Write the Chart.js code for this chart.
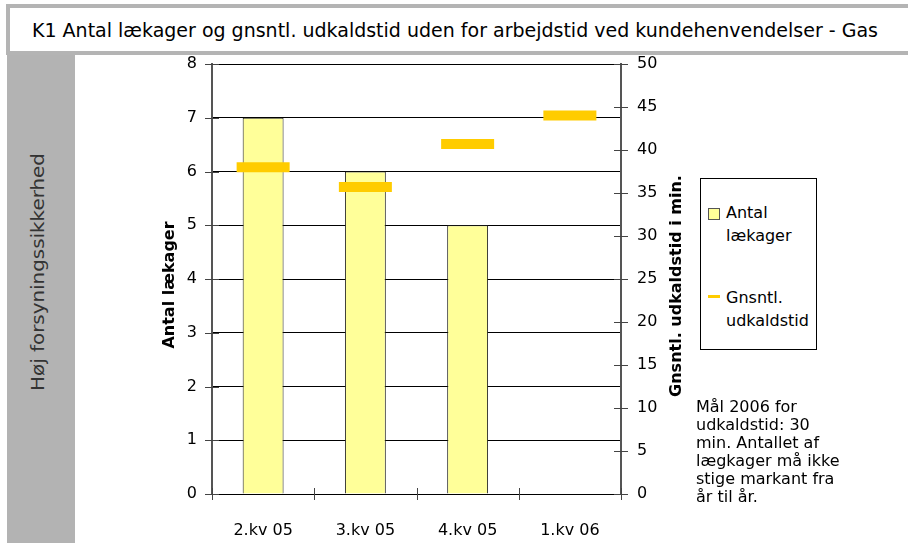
<!DOCTYPE html>
<html>
<head>
<meta charset="utf-8">
<script src="https://cdn.jsdelivr.net/npm/chart.js@4"></script>
<style>
  body { margin:0; width:908px; height:543px; position:relative; overflow:hidden; background:#fff; font-family:"DejaVu Sans", sans-serif; }
  #titlebox { position:absolute; left:6px; top:4px; width:920px; height:43px; border:4px solid #b4b4b4; background:#fff;
    font-size:19px; line-height:44px; padding-left:22px; color:#000; white-space:nowrap; box-sizing:content-box; }
  #side { position:absolute; left:7px; top:55px; width:68px; height:488px; background:#b3b3b3; }
  #sidetext { position:absolute; left:31px; top:217px; transform:translate(-50%,-50%) rotate(-90deg) scaleX(1.17); font-size:17px; color:#333; white-space:nowrap; }
  #chart { position:absolute; left:0; top:0; }
  #legend { position:absolute; left:700px; top:178px; width:115px; height:170px; border:1px solid #000; background:#fff; }
  .lg-text { position:absolute; left:25px; font-size:16px; line-height:23px; color:#000; }
  #note { position:absolute; left:696px; top:398px; font-size:16px; line-height:18px; color:#000; }
</style>
</head>
<body>
<div id="titlebox"></div>
<div id="side"><div id="sidetext"></div></div>
<canvas id="chart" width="908" height="543"></canvas>
<div id="legend"></div>
<div id="note"></div>
<script>
const titleText = 'K1 Antal lækager og gnsntl. udkaldstid uden for arbejdstid ved kundehenvendelser - Gas';
const sideText = 'Høj forsyningssikkerhed';
const categories = ['2.kv 05', '3.kv 05', '4.kv 05', '1.kv 06'];
const leaks = [7, 6, 5, null];
const callTime = [38, 35.7, 40.7, 44];
const leakLegend = ['Antal', 'lækager'];
const timeLegend = ['Gnsntl.', 'udkaldstid'];
const leftTitle = 'Antal lækager';
const rightTitle = 'Gnsntl. udkaldstid i min.';
const noteLines = ['Mål 2006 for', 'udkaldstid: 30', 'min. Antallet af', 'lægkager må ikke', 'stige markant fra', 'år til år.'];

document.getElementById('titlebox').textContent = titleText;
document.getElementById('sidetext').textContent = sideText;
document.getElementById('note').innerHTML = noteLines.join('<br>');

const lg = document.getElementById('legend');
lg.innerHTML = `
  <div style="position:absolute;left:7px;top:29px;width:10px;height:10px;background:#ffff99;border:1px solid #555"></div>
  <div class="lg-text" style="top:22px">${leakLegend.join('<br>')}</div>
  <div style="position:absolute;left:7px;top:116px;width:12px;height:3px;background:#ffcc00"></div>
  <div class="lg-text" style="top:107px">${timeLegend.join('<br>')}</div>`;

const FONT = 'DejaVu Sans';

// crossing tick marks + rotated axis titles
const axisExtras = {
  id: 'axisExtras',
  afterDraw(chart) {
    const {ctx, chartArea: a, scales} = chart;
    ctx.save();
    ctx.strokeStyle = '#444';
    ctx.lineWidth = 1;
    ctx.beginPath();
    scales.y.ticks.forEach(t => {
      const y = Math.round(scales.y.getPixelForValue(t.value)) + 0.5;
      ctx.moveTo(a.left - 7, y); ctx.lineTo(a.left + 7, y);
    });
    scales.y1.ticks.forEach(t => {
      const y = Math.round(scales.y1.getPixelForValue(t.value)) + 0.5;
      ctx.moveTo(a.right - 7, y); ctx.lineTo(a.right + 7, y);
    });
    const n = categories.length;
    for (let i = 0; i <= n; i++) {
      const x = Math.round(a.left + i * (a.right - a.left) / n) + 0.5;
      ctx.moveTo(x, a.bottom - 6); ctx.lineTo(x, a.bottom + 6);
    }
    ctx.stroke();

    ctx.fillStyle = '#000';
    ctx.font = `bold 16px "${FONT}"`;
    ctx.textAlign = 'center';
    ctx.textBaseline = 'middle';
    const cy = (a.top + a.bottom) / 2;
    ctx.translate(170, cy + 6);
    ctx.rotate(-Math.PI / 2);
    ctx.fillText(leftTitle, 0, 0);
    ctx.setTransform(1, 0, 0, 1, 0, 0);
    ctx.translate(677, cy + 7);
    ctx.rotate(-Math.PI / 2);
    ctx.fillText(rightTitle, 0, 0);
    ctx.restore();
  }
};

new Chart(document.getElementById('chart'), {
  data: {
    labels: categories,
    datasets: [
      {
        type: 'line', label: timeLegend.join(' '), data: callTime, yAxisID: 'y1',
        showLine: false, pointStyle: 'line', pointRadius: 26.5, pointHoverRadius: 26.5,
        pointBorderWidth: 10, pointHoverBorderWidth: 10,
        borderColor: '#ffcc00', backgroundColor: '#ffcc00', order: 0
      },
      {
        type: 'bar', label: leakLegend.join(' '), data: leaks, yAxisID: 'y',
        backgroundColor: '#ffff99', borderColor: '#222', borderWidth: 1,
        barPercentage: 0.4, categoryPercentage: 1, order: 1
      }
    ]
  },
  options: {
    responsive: false,
    animation: false,
    devicePixelRatio: 1,
    events: [],
    layout: { padding: { top: 64, left: 0, right: 0, bottom: 0 } },
    plugins: { legend: { display: false }, tooltip: { enabled: false } },
    scales: {
      x: {
        offset: true,
        grid: { display: false },
        border: { color: '#000', width: 1 },
        ticks: { font: { family: FONT, size: 16 }, color: '#000', padding: 19, maxRotation: 0, autoSkip: false },
        afterFit: s => { s.height = 49; }
      },
      y: {
        position: 'left', min: 0, max: 8,
        ticks: { stepSize: 1, font: { family: FONT, size: 16 }, color: '#000', padding: 15 },
        grid: { color: '#000', lineWidth: 1, drawTicks: false },
        border: { color: '#555', width: 2 },
        afterFit: s => { s.width = 212; }
      },
      y1: {
        position: 'right', min: 0, max: 50,
        ticks: { stepSize: 5, font: { family: FONT, size: 16 }, color: '#000', padding: 16 },
        grid: { drawOnChartArea: false, drawTicks: false },
        border: { color: '#555', width: 2 },
        afterFit: s => { s.width = 287; }
      }
    }
  },
  plugins: [axisExtras]
});
</script>
</body>
</html>
